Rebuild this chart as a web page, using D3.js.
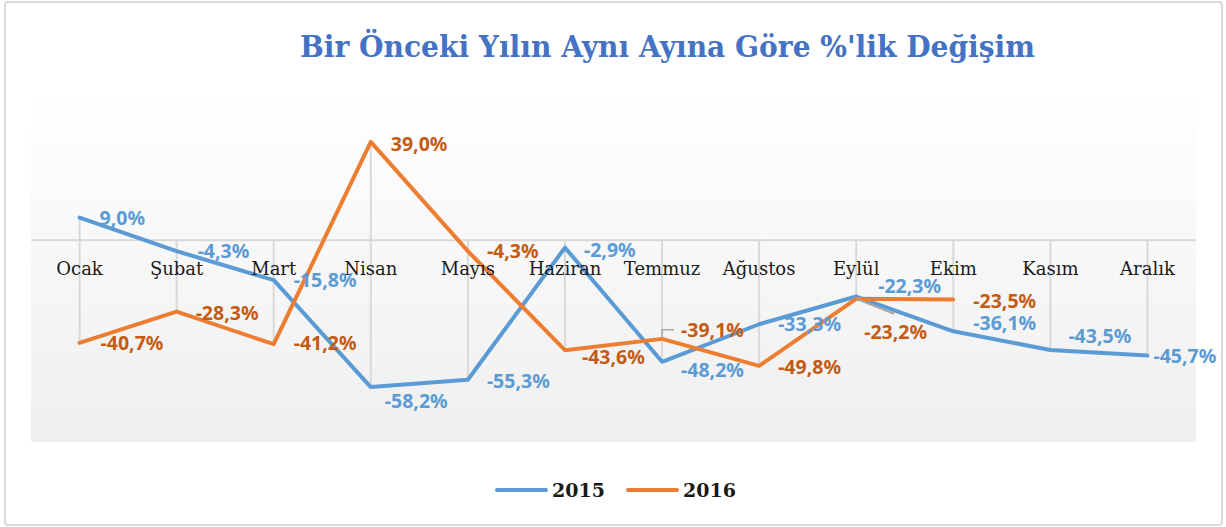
<!DOCTYPE html>
<html>
<head>
<meta charset="utf-8">
<script src="https://cdn.jsdelivr.net/npm/d3@7"></script>
<style>
	body { margin: 0; background: #fff; }
	svg { display: block; }
</style>
</head>
<body>
<div id="chart"></div>
<script>

// data
var months = ["Ocak", "Şubat", "Mart", "Nisan", "Mayıs", "Haziran", "Temmuz", "Ağustos", "Eylül", "Ekim", "Kasım", "Aralık"];
var values2015 = [9.0, -4.3, -15.8, -58.2, -55.3, -2.9, -48.2, -33.3, -22.3, -36.1, -43.5, -45.7];
var values2016 = [-40.7, -28.3, -41.2, 39.0, -4.3, -43.6, -39.1, -49.8, -23.2, -23.5, null, null];
var seriesNames = ["2015", "2016"];
var yDomain = [-80, 60];
var titleText = "Bir Önceki Yılın Aynı Ayına Göre %'lik Değişim";

// label placement (dx, dy from point)
var labelOffsets2015 = [[20,7],[21,7],[20,7],[14,21],[19,8],[19,9],[19,15],[19,7],[22,-4],[20,-1],[18,-7],[6,7]];
var labelOffsets2016 = [[21,7],[19,8],[20,6],[20,9],[19,7],[17,14],[19,-2],[19,8],[8,40],[20,8]];

var width = 1226, height = 527;
var plot = {left: 31, right: 1196, top: 89, bottom: 442};

var svg = d3.select("#chart").append("svg")
	.attr("width", width)
	.attr("height", height);

var defs = svg.append("defs");
var grad = defs.append("linearGradient")
	.attr("id", "bg")
	.attr("x1", 0).attr("y1", 0).attr("x2", 0).attr("y2", 1);
grad.append("stop").attr("offset", "0%").attr("stop-color", "#ffffff");
grad.append("stop").attr("offset", "100%").attr("stop-color", "#efefef");

// outer border
svg.append("rect")
	.attr("x", 5).attr("y", 2)
	.attr("width", 1217).attr("height", 523)
	.attr("rx", 3)
	.attr("fill", "#fff")
	.attr("stroke", "#d9d9d9")
	.attr("stroke-width", 2);

// title
svg.append("text")
	.attr("x", 300)
	.attr("y", 57)
	.attr("textLength", 735)
	.attr("lengthAdjust", "spacingAndGlyphs")
	.attr("font-family", "DejaVu Serif")
	.attr("font-weight", "bold")
	.attr("font-size", 29)
	.attr("fill", "#4472c4")
	.text(titleText);

var x = d3.scalePoint()
	.domain(months)
	.range([plot.left, plot.right])
	.padding(0.5);

var y = d3.scaleLinear()
	.domain(yDomain)
	.range([plot.bottom, plot.top]);

var g = svg.append("g");

// plot background
g.append("rect")
	.attr("x", plot.left)
	.attr("y", plot.top)
	.attr("width", plot.right - plot.left)
	.attr("height", plot.bottom - plot.top)
	.attr("fill", "url(#bg)");

// high-low lines
months.forEach(function(m, i) {
	var vals = [0, values2015[i]];
	if (values2016[i] != null) vals.push(values2016[i]);
	g.append("line")
		.attr("x1", x(m)).attr("x2", x(m))
		.attr("y1", y(d3.max(vals)))
		.attr("y2", y(d3.min(vals)))
		.attr("stroke", "#d9d9d9")
		.attr("stroke-width", 2);
});

// zero axis line
g.append("line")
	.attr("x1", plot.left).attr("x2", plot.right)
	.attr("y1", y(0)).attr("y2", y(0))
	.attr("stroke", "#d9d9d9")
	.attr("stroke-width", 2);

var line = d3.line()
	.defined(function(d) { return d != null; })
	.x(function(d, i) { return x(months[i]); })
	.y(function(d) { return y(d); });

var series = [
	{name: seriesNames[0], values: values2015, color: "#5b9bd5", labelColor: "#5b9bd5", offsets: labelOffsets2015},
	{name: seriesNames[1], values: values2016, color: "#ed7d31", labelColor: "#c55a11", offsets: labelOffsets2016}
];

series.forEach(function(s) {
	g.append("path")
		.datum(s.values)
		.attr("fill", "none")
		.attr("stroke", s.color)
		.attr("stroke-width", 4)
		.attr("stroke-linejoin", "round")
		.attr("stroke-linecap", "round")
		.attr("d", line);
});

// leader lines (2016: Temmuz, Eylül)
var pT = [x("Temmuz"), y(values2016[6])];
g.append("path")
	.attr("d", "M" + pT[0] + "," + (pT[1] - 2) + "V" + (pT[1] - 9) + "H" + (pT[0] + 12))
	.attr("fill", "none")
	.attr("stroke", "#a6a6a6")
	.attr("stroke-width", 1.5);
var pE = [x("Eylül"), y(values2016[8])];
g.append("line")
	.attr("x1", pE[0]).attr("y1", pE[1])
	.attr("x2", pE[0] + 38).attr("y2", pE[1] + 15)
	.attr("stroke", "#a6a6a6")
	.attr("stroke-width", 2);

// category labels
g.selectAll(".cat")
	.data(months)
	.enter().append("text")
	.attr("class", "cat")
	.attr("x", function(d) { return x(d); })
	.attr("y", 275)
	.attr("text-anchor", "middle")
	.attr("font-family", "DejaVu Serif")
	.attr("font-size", 18)
	.attr("fill", "#1a1a1a")
	.text(function(d) { return d; });

function fmt(v) {
	return v.toFixed(1).replace(".", ",") + "%";
}

// data labels
series.forEach(function(s) {
	s.values.forEach(function(v, i) {
		if (v == null) return;
		g.append("text")
			.attr("x", x(months[i]) + s.offsets[i][0])
			.attr("y", y(v) + s.offsets[i][1])
			.attr("font-family", "Noto Sans")
			.attr("font-weight", "bold")
			.attr("font-size", 19.5)
			.attr("fill", s.labelColor)
			.text(fmt(v));
	});
});

// legend
var legendX = [497, 628];
series.forEach(function(s, i) {
	var lg = svg.append("g").attr("transform", "translate(" + legendX[i] + ",490)");
	lg.append("line")
		.attr("x1", 0).attr("x2", 49)
		.attr("stroke", s.color)
		.attr("stroke-width", 4)
		.attr("stroke-linecap", "round");
	lg.append("text")
		.attr("x", 55)
		.attr("y", 7)
		.attr("font-family", "DejaVu Serif")
		.attr("font-weight", "bold")
		.attr("font-size", 19)
		.attr("fill", "#1a1a1a")
		.text(s.name);
});

</script>
</body>
</html>
